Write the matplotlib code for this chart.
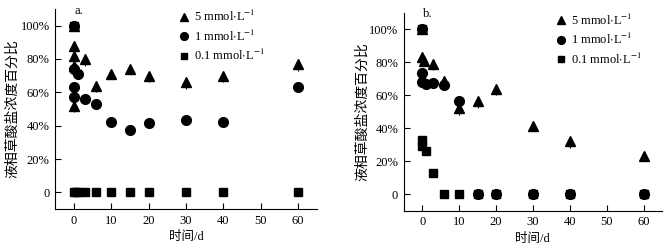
import matplotlib.pyplot as plt
from matplotlib.ticker import FuncFormatter

plt.rcParams['font.family'] = ['Liberation Serif', 'Noto Sans CJK SC']
plt.rcParams['mathtext.fontset'] = 'stix'

# panel a
a_tri_x = [0, 0, 0, 0, 0, 3, 6, 10, 15, 20, 30, 40, 60]
a_tri_y = [100, 88, 82, 76, 52, 80, 64, 71, 74, 70, 66, 70, 77]
a_tri_err = [0, 3, 3, 3, 4, 4, 4, 3, 3, 4, 4, 4, 4]
a_cir_x = [0, 0, 1, 0, 0, 3, 6, 10, 15, 20, 30, 40, 60]
a_cir_y = [100, 74, 71, 63, 57, 56, 53, 42, 37.5, 41.5, 43.5, 42, 63]
a_sq_x = [0, 0, 0.5, 1, 3, 6, 10, 15, 20, 30, 40, 60]
a_sq_y = [100, 0, 0, 0, 0, 0, 0, 0, 0, 0, 0, 0]

# panel b
b_tri_x = [0, 0, 0.5, 3, 6, 10, 15, 20, 30, 40, 60]
b_tri_y = [100, 83, 81, 79, 68.5, 52, 56.5, 64, 41.5, 32, 23]
b_tri_err = [0, 3, 3, 4, 3, 4, 4, 4, 3, 4, 2]
b_cir_x = [0, 0, 0, 1, 3, 6, 10, 15, 20, 30, 40, 60]
b_cir_y = [100, 73.5, 68, 67, 67.5, 66, 56.5, 0, 0, 0, 0, 0]
b_sq_x = [0, 0, 0, 1, 3, 6, 10, 15, 20, 30, 40, 60]
b_sq_y = [100, 33, 29, 26, 13, 0, 0, 0, 0, 0, 0, 0]

labels = [r'5 mmol$\cdot$L$^{-1}$', r'1 mmol$\cdot$L$^{-1}$', r'0.1 mmol$\cdot$L$^{-1}$']

fig = plt.figure(figsize=(6.64, 2.48), dpi=100)
ax1 = fig.add_axes([0.083, 0.157, 0.394, 0.807])
ax2 = fig.add_axes([0.608, 0.150, 0.389, 0.799])


def draw(ax, tri, cir, sq, tag, leg_x, ypad):
    h1 = ax.errorbar(tri[0], tri[1], yerr=[tri[2], [0] * len(tri[2])], fmt='^', color='black',
                     ms=7.5, elinewidth=0.8, capsize=0)
    h2, = ax.plot(cir[0], cir[1], 'o', color='black', ms=7)
    h3, = ax.plot(sq[0], sq[1], 's', color='black', ms=6)
    ax.set_xlim(-5, 65)
    ax.set_ylim(-10, 110)
    ax.set_xticks([0, 10, 20, 30, 40, 50, 60])
    ax.set_yticks([0, 20, 40, 60, 80, 100])
    ax.yaxis.set_major_formatter(FuncFormatter(lambda v, p: '0' if v == 0 else '%d%%' % v))
    ax.spines['top'].set_visible(False)
    ax.spines['right'].set_visible(False)
    ax.tick_params(direction='in', length=4, labelsize=9, pad=4)
    ax.set_xlabel('时间/d', fontsize=9, labelpad=3)
    ax.set_ylabel('液相草酸盐浓度百分比', fontsize=10, labelpad=ypad)
    ax.text(0.2, 109, tag, fontsize=9, ha='left', va='center')
    ax.legend([h1[0], h2, h3], labels, loc='upper left', bbox_to_anchor=(leg_x, 1.0),
              frameon=False, fontsize=9, handletextpad=0.3, borderpad=0,
              borderaxespad=0, labelspacing=0.35, handlelength=1.0, markerscale=0.8)


draw(ax1, (a_tri_x, a_tri_y, a_tri_err), (a_cir_x, a_cir_y), (a_sq_x, a_sq_y), 'a.', 0.47, 1)
draw(ax2, (b_tri_x, b_tri_y, b_tri_err), (b_cir_x, b_cir_y), (b_sq_x, b_sq_y), 'b.', 0.585, 0)

fig.savefig('out.png', dpi=100)
